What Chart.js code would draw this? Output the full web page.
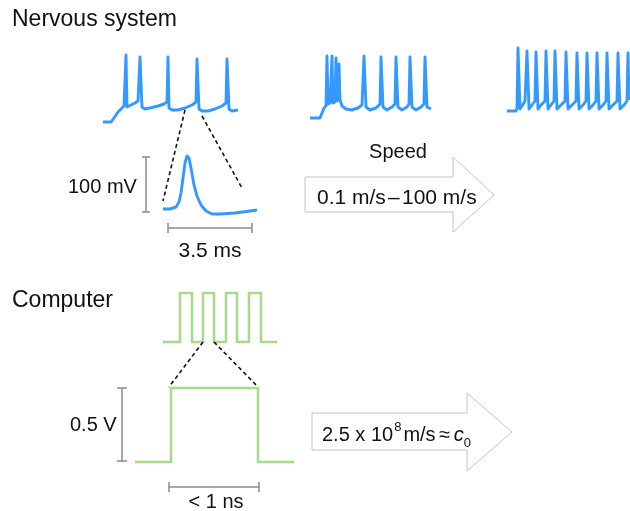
<!DOCTYPE html>
<html>
<head>
<meta charset="utf-8">
<script src="https://cdn.jsdelivr.net/npm/chart.js@4"></script>
<style>
  html, body { margin: 0; padding: 0; background: #fff; }
  #wrap { width: 630px; height: 511px; }
</style>
</head>
<body>
<div id="wrap"><canvas id="fig" width="630" height="511"></canvas></div>
<script>
// traces (x, y in figure units, y grows downward)
var slowTrain = [[103,122],[111,122],[114,118],[118,112],[122,108],[124,106],[126,55],[127,107],[131,105],[135,103],[138,101],[140,57],[142,107],[145,109],[150,108],[158,106],[164,104],[167,102],[168,57],[169,108],[172,110],[178,110],[185,108],[192,105],[196,102],[197,59],[199,109],[202,111],[208,111],[215,109],[222,106],[226,103],[227,59],[229,109],[232,111],[238,110]];
var midTrain = [[310,118],[320,118],[322,113],[324,108],[326,106],[327,56],[328,104],[330,103],[332,56],[333,103],[335,102],[336,58],[337,101],[338,100],[339,64],[340,100],[342,106],[346,109],[352,110],[358,108],[362,105],[364,56],[366,107],[370,110],[376,108],[380,104],[381,57],[383,107],[387,110],[392,107],[395,104],[396,57],[398,107],[402,110],[407,107],[409,104],[410,57],[412,107],[416,110],[421,107],[424,104],[425,57],[427,107],[431,109]];
var fastTrain = [[507,111],[516,111],[517,108],[518,48],[520,109],[522,106],[525,101],[527,51],[529,109],[532,105],[535,101],[536,52],[538,109],[541,105],[545,101],[546,51],[548,109],[551,105],[554,101],[555,51],[557,109],[561,105],[565,101],[566,52],[568,109],[572,105],[576,101],[577,53],[579,109],[583,105],[586,101],[587,53],[589,109],[593,105],[596,101],[597,53],[599,109],[603,105],[606,101],[607,53],[609,109],[613,105],[617,101],[618,53],[620,109],[624,105],[627,101],[628,53],[629,100]];
var singleSpike = [[163,209],[170,209],[176,207],[179,202],[181,193],[183,178],[185,163],[187,156],[189,158],[191,168],[194,185],[197,196],[201,205],[206,211],[212,214],[220,214],[235,213],[250,211],[257,210]];
var clockTrain = [[163,342],[180,342],[180,293],[192,293],[192,342],[203,342],[203,293],[214,293],[214,342],[226,342],[226,293],[237,293],[237,342],[249,342],[249,293],[261,293],[261,342],[277,342]];
var singlePulse = [[135,462],[171,462],[171,388],[258,388],[258,462],[294,462]];

var zoomGuides = [
  [[185,110],[163,201]], [[202,116],[242,188]],
  [[203,342],[169,387]], [[214,342],[258,387]]
];
var scaleBars = [
  [[142,157],[150,157],[146,157],[146,212],[142,212],[150,212]],
  [[168,223],[168,233],[168,228],[252,228],[252,223],[252,233]],
  [[117,388],[127,388],[122,388],[122,461],[117,461],[127,461]],
  [[169,482],[169,492],[169,487],[259,487],[259,482],[259,492]]
];
var arrows = [
  [[305,177],[453,177],[453,157],[494,195],[453,232],[453,212],[305,212],[305,177]],
  [[312,413],[467,413],[467,393],[512,432],[467,471],[467,450],[312,450],[312,413]]
];

var labels = ['Nervous system', 'Computer', '100 mV', '3.5 ms', 'Speed', '0.1 m/s', '\u2013', '100 m/s', '0.5 V', '< 1 ns'];

var BLUE = '#3399ff', GREEN = '#a9d98c', GREY = '#8a8a8a';
var FONT = '"Liberation Sans", Arial, sans-serif';

function pts(a) { return a.map(function(p) { return { x: p[0], y: p[1] }; }); }
function line(a, color, width, extra) {
  var d = { data: pts(a), showLine: true, pointRadius: 0, borderColor: color, borderWidth: width,
            fill: false, tension: 0, borderJoinStyle: 'round', borderCapStyle: 'butt' };
  for (var k in extra) d[k] = extra[k];
  return d;
}

var datasets = [];
arrows.forEach(function(a) { datasets.push(line(a, '#c4c4c4', 1, { borderJoinStyle: 'miter' })); });
scaleBars.forEach(function(a) { datasets.push(line(a, GREY, 1.5, { borderJoinStyle: 'miter' })); });
zoomGuides.forEach(function(a) { datasets.push(line(a, '#111', 1.6, { borderDash: [4, 3] })); });
[slowTrain, midTrain, fastTrain, singleSpike].forEach(function(a) { datasets.push(line(a, BLUE, 2.9)); });
[clockTrain, singlePulse].forEach(function(a) { datasets.push(line(a, GREEN, 2.6, { borderJoinStyle: 'miter' })); });

// text placed through the scales
var textPlugin = {
  id: 'figText',
  afterDatasetsDraw: function(chart) {
    var c = chart.ctx, sx = chart.scales.x, sy = chart.scales.y;
    function put(s, x, y, size, align, style) {
      c.font = (style || '') + ' ' + size + 'px ' + FONT;
      c.textAlign = align || 'left';
      c.textBaseline = 'alphabetic';
      c.fillStyle = '#111';
      c.fillText(s, sx.getPixelForValue(x), sy.getPixelForValue(y));
      return c.measureText(s).width;
    }
    c.save();
    put(labels[0], 12, 26, 23);
    put(labels[1], 12, 307, 23);
    put(labels[2], 68, 193, 20);
    put(labels[3], 210, 257, 21, 'center');
    put(labels[4], 398, 158, 20, 'center');
    put(labels[5], 317, 204, 21);
    put(labels[6], 388, 204, 21);
    put(labels[7], 402, 204, 21);
    put(labels[8], 70, 431, 20);
    put(labels[9], 216, 508, 20, 'center');
    // 2.5 x 10^8 m/s ≈ c0
    var x = 322;
    x += put('2.5 x 10', x, 441, 20);
    x += put('8', x + 1, 431, 13) + 3;
    x += put('m/s', x, 441, 20);
    x += put(' \u2248 ', x - 2, 441, 20) - 4;
    x += put('c', x, 441, 20, 'left', 'italic');
    put('0', x, 447, 13);
    c.restore();
  }
};

new Chart(document.getElementById('fig'), {
  type: 'scatter',
  data: { datasets: datasets },
  options: {
    responsive: false,
    animation: false,
    layout: { padding: 0 },
    plugins: { legend: { display: false }, tooltip: { enabled: false } },
    scales: {
      x: { type: 'linear', min: 0, max: 630, display: false },
      y: { type: 'linear', min: 0, max: 511, reverse: true, display: false }
    }
  },
  plugins: [textPlugin]
});
</script>
</body>
</html>
